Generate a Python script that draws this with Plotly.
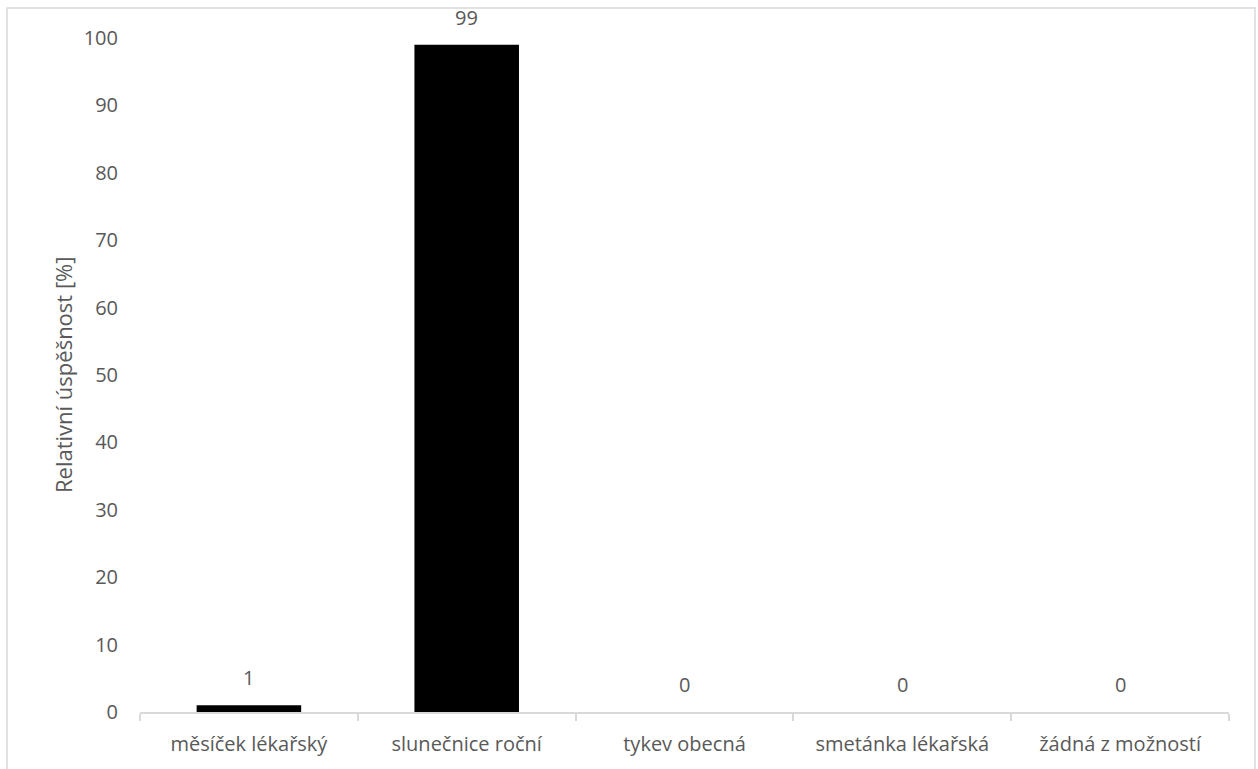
import plotly.graph_objects as go

# Data
categories = ["měsíček lékařský", "slunečnice roční", "tykev obecná",
              "smetánka lékařská", "žádná z možností"]
values = [1, 99, 0, 0, 0]
y_ticks = list(range(0, 101, 10))

W, H = 1258, 769
L, R, T, B = 140, 29, 38, 57
plot_w = W - L - R
plot_h = H - T - B

FONT = "Open Sans"
TEXT_COLOR = "#595959"
AXIS_COLOR = "#d9d9d9"
TICK_SIZE = 20

fig = go.Figure()
fig.add_trace(go.Bar(
    x=categories,
    y=values,
    marker=dict(color="#000000", line=dict(width=0)),
    showlegend=False,
    hoverinfo="x+y",
))

# value labels above each bar
for c, v in zip(categories, values):
    fig.add_annotation(
        x=c, y=v, text=str(v), showarrow=False,
        yanchor="bottom", yshift=12,
        font=dict(family=FONT, size=TICK_SIZE, color=TEXT_COLOR),
    )

# y-axis title
fig.add_annotation(
    x=(63 - L) / plot_w, xref="paper", y=0.5, yref="paper",
    text="Relativní úspěšnost [%]", textangle=-90, showarrow=False,
    xanchor="center", yanchor="middle",
    font=dict(family=FONT, size=22, color=TEXT_COLOR),
)

# outer chart frame
def px_x(p):
    return (p - L) / plot_w

def px_y(p):
    return (H - B - p) / plot_h

fig.add_shape(
    type="rect", xref="paper", yref="paper",
    x0=px_x(7), x1=px_x(1255), y0=px_y(790), y1=px_y(8),
    line=dict(color=AXIS_COLOR, width=1.5), layer="below",
)

fig.update_layout(
    width=W, height=H,
    margin=dict(l=L, r=R, t=T, b=B),
    paper_bgcolor="white",
    plot_bgcolor="white",
    bargap=0.52,
    font=dict(family=FONT, size=TICK_SIZE, color=TEXT_COLOR),
    xaxis=dict(
        showline=True, linecolor=AXIS_COLOR, linewidth=1.5,
        ticks="outside", tickson="boundaries", ticklen=7,
        tickcolor=AXIS_COLOR, tickwidth=1.5,
        showgrid=False, zeroline=False,
        tickfont=dict(family=FONT, size=TICK_SIZE, color=TEXT_COLOR),
        ticklabelstandoff=13,
    ),
    yaxis=dict(
        range=[0, 100], tickvals=y_ticks,
        showline=False, showgrid=False, zeroline=False,
        ticks="", ticklabelstandoff=21,
        tickfont=dict(family=FONT, size=TICK_SIZE, color=TEXT_COLOR),
    ),
)

fig.write_html("out.html")
